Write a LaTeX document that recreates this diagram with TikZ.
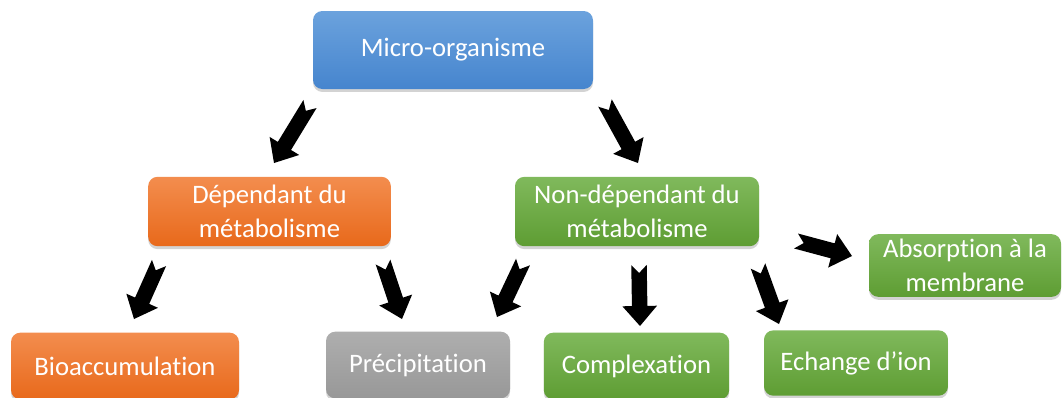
\documentclass[tikz,border=0pt]{standalone}
\usepackage{fontspec}
\setmainfont{Carlito}[Ligatures=NoCommon]
\usetikzlibrary{calc,shadows}
\definecolor{bluetop}{HTML}{6BA2DD}
\definecolor{bluebot}{HTML}{4685CE}
\definecolor{orangetop}{HTML}{F38D4E}
\definecolor{orangebot}{HTML}{E8691B}
\definecolor{greentop}{HTML}{80B95C}
\definecolor{greenbot}{HTML}{5E9D33}
\definecolor{graytop}{HTML}{AEAEAE}
\definecolor{graybot}{HTML}{989898}
\tikzset{
  box/.style={rounded corners=7pt, text=white, align=center, inner sep=0pt,
    font=\fontsize{20}{25}\selectfont,
    drop shadow={shadow xshift=0pt, shadow yshift=-2.2pt, opacity=0.35}},
  bluebox/.style={box, top color=bluetop, bottom color=bluebot},
  orangebox/.style={box, top color=orangetop, bottom color=orangebot},
  greenbox/.style={box, top color=greentop, bottom color=greenbot},
  graybox/.style={box, top color=graytop, bottom color=graybot},
}
% block arrow with notched tail: #1 tail, #2 tip
\newcommand\blockarr[2]{%
  \path ($(#2)!15pt!(#1)$) coordinate (hb);
  \fill[black] ($(#1)!5.8pt!90:(#2)$) -- ($(hb)!5.8pt!-90:(#1)$)
    -- ($(hb)!13pt!-90:(#1)$) -- (#2) -- ($(hb)!13pt!90:(#1)$)
    -- ($(hb)!5.8pt!90:(#1)$) -- ($(#1)!5.8pt!-90:(#2)$)
    -- ($(#1)!6pt!(#2)$) -- cycle;}
\begin{document}
\begin{tikzpicture}[x=0.75pt,y=-0.75pt]
\useasboundingbox (0,0) rectangle (1064,397);
\clip (0,0) rectangle (1064,397);
\node[bluebox, minimum width=210pt, minimum height=58.5pt] (micro) at (453,50) {Micro-organisme};
\node[orangebox, minimum width=182pt, minimum height=52pt] (dep) at (269.5,211.5) {Dépendant du\\métabolisme};
\node[greenbox, minimum width=183pt, minimum height=52pt] (nondep) at (637,211.5) {Non-dépendant du\\métabolisme};
\node[greenbox, minimum width=144pt, minimum height=47pt] (abs) at (965,265.5) {Absorption à la\\membrane};
\node[orangebox, minimum width=171pt, minimum height=50pt] (bio) at (125,366) {Bioaccumulation};
\node[graybox, minimum width=138pt, minimum height=50pt] (prec) at (418,365) {Précipitation};
\node[greenbox, minimum width=139pt, minimum height=50pt] (comp) at (636.5,366) {Complexation};
\node[greenbox, minimum width=138pt, minimum height=49pt] (ech) at (856,363) {Echange d’ion};
% arrow end points
\coordinate (t1) at (310,104); \coordinate (h1) at (274,163);
\coordinate (t2) at (605,103); \coordinate (h2) at (638,163);
\coordinate (t3) at (159,263); \coordinate (h3) at (134,319);
\coordinate (t4) at (383,262); \coordinate (h4) at (402,319);
\coordinate (t5) at (523,262); \coordinate (h5) at (497,317);
\coordinate (t6) at (639,265); \coordinate (h6) at (640,326);
\coordinate (t7) at (758,266); \coordinate (h7) at (779,324);
\coordinate (t8) at (796,241); \coordinate (h8) at (852,256);
\blockarr{t1}{h1}
\blockarr{t2}{h2}
\blockarr{t3}{h3}
\blockarr{t4}{h4}
\blockarr{t5}{h5}
\blockarr{t6}{h6}
\blockarr{t7}{h7}
\blockarr{t8}{h8}
\end{tikzpicture}
\end{document}
